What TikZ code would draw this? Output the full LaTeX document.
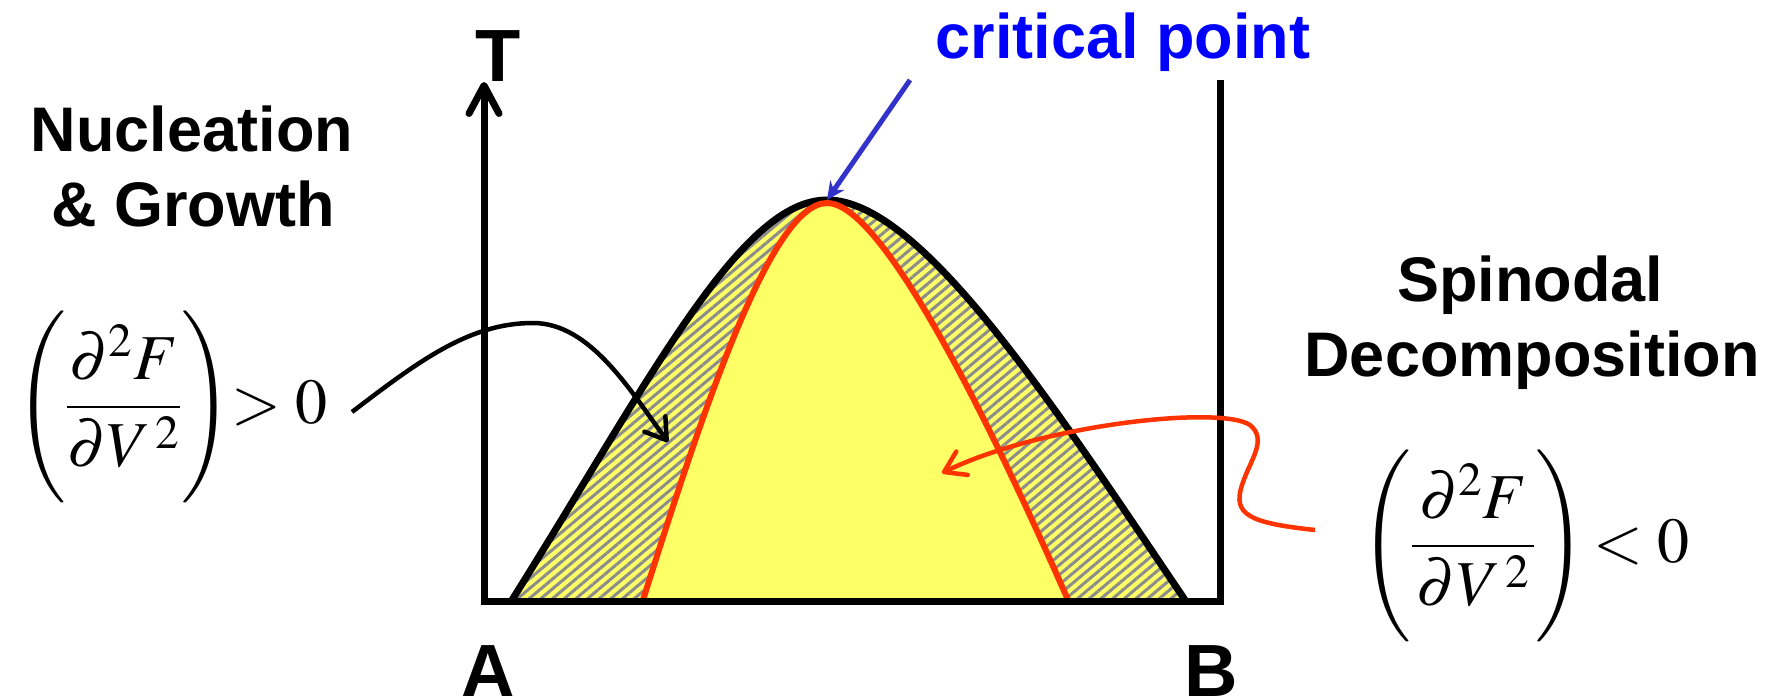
\documentclass[tikz,border=0pt]{standalone}
\usepackage[no-math]{fontspec}
\usepackage{mathptmx}
\newfontfamily\lblfont{Liberation Sans}
\usetikzlibrary{arrows.meta,patterns.meta}
\definecolor{ptyellow}{HTML}{FFFF66}
\definecolor{ptred}{HTML}{FF3300}
\definecolor{ptblue}{HTML}{3333CC}
\definecolor{txtblue}{HTML}{0000FF}
\definecolor{hatchgray}{HTML}{8C8C8C}
\begin{document}
\begin{tikzpicture}[x=1pt, y=-1pt,
  lbl/.style={font=\lblfont\bfseries\fontsize{63}{75}\selectfont, inner sep=0pt, anchor=base},
  axlbl/.style={font=\lblfont\bfseries\fontsize{74}{80}\selectfont, inner sep=0pt, anchor=base},
  cond/.style={font=\fontsize{64}{70}\selectfont, inner sep=0pt, anchor=base west},
  axisline/.style={line width=7pt},
  pointer/.style={line width=4.5pt, -{Straight Barb[length=20pt,width=26pt,round]}}]
\useasboundingbox (0,0) rectangle (1782,700);
% points of the two curves
\coordinate (bl) at (512,600);
\coordinate (bt) at (827,200);
\coordinate (br) at (1185,600);
\coordinate (sl) at (643,600);
\coordinate (st) at (827,203);
\coordinate (sr) at (1068,600);
% yellow region, hatched band, plain inside
\fill[ptyellow] (bl) .. controls (650,380) and (740,200) .. (bt) .. controls (920,200) and (1050,400) .. (br) -- cycle;
\fill[pattern={Lines[angle=40,distance=7.5pt,line width=3pt]}, pattern color=hatchgray]
  (bl) .. controls (650,380) and (740,200) .. (bt) .. controls (920,200) and (1050,400) .. (br) -- cycle;
\fill[ptyellow] (sl) .. controls (700,420) and (770,203) .. (st) .. controls (880,203) and (980,400) .. (sr) -- cycle;
\draw[line width=7pt] (bl) .. controls (650,380) and (740,200) .. (bt) .. controls (920,200) and (1050,400) .. (br);
\draw[ptred, line width=6pt] (sl) .. controls (700,420) and (770,203) .. (st) .. controls (880,203) and (980,400) .. (sr);
% axes
\coordinate (ytip) at (484,82);
\coordinate (orig) at (484,601);
\coordinate (xend) at (1220,601);
\coordinate (rtop) at (1220,80);
\draw[axisline, {Straight Barb[length=28pt,width=30pt,round]}-] (ytip) -- (orig) -- (xend) -- (rtop);
\node[axlbl] (tlab) at (498,82) {T};
\node[axlbl] (alab) at (488,696) {A};
\node[axlbl] (blab) at (1211,696) {B};
% critical point
\node[lbl, txtblue] (cplab) at (1123,59) {critical point};
\coordinate (cpfoot) at (910,80);
\draw[ptblue, line width=5pt, -{Stealth[length=18pt,width=17pt]}] (cpfoot) -- (bt);
% labels and conditions
\node[lbl] (nuc) at (192,152) {Nucleation};
\node[lbl] (grow) at (193,227) {\& Growth};
\node[lbl] (spin) at (1530,302) {Spinodal};
\node[lbl] (decomp) at (1532,377) {Decomposition};
\node[cond] (poscond) at (15,423) {$\left(\displaystyle\frac{\partial^2 F}{\partial V^{\,2}}\right)\!\! > 0$};
\node[cond] (negcond) at (1360,562) {$\left(\displaystyle\frac{\,\partial^2 F\,}{\partial V^{\,2}}\right)\! < 0$};
\coordinate (nstart) at (352,412);
\coordinate (ntip) at (668,442);
\draw[pointer] (nstart) .. controls (420,360) and (470,323) .. (533,323) .. controls (590,323) and (630,390) .. (ntip);
\coordinate (sstart) at (1315,530);
\coordinate (stip) at (942,473);
\draw[pointer, ptred] (sstart) .. controls (1250,523) and (1232,515) .. (1242,485) .. controls (1250,460) and (1268,440) .. (1250,425) .. controls (1220,405) and (1040,425) .. (stip);
\end{tikzpicture}
\end{document}
